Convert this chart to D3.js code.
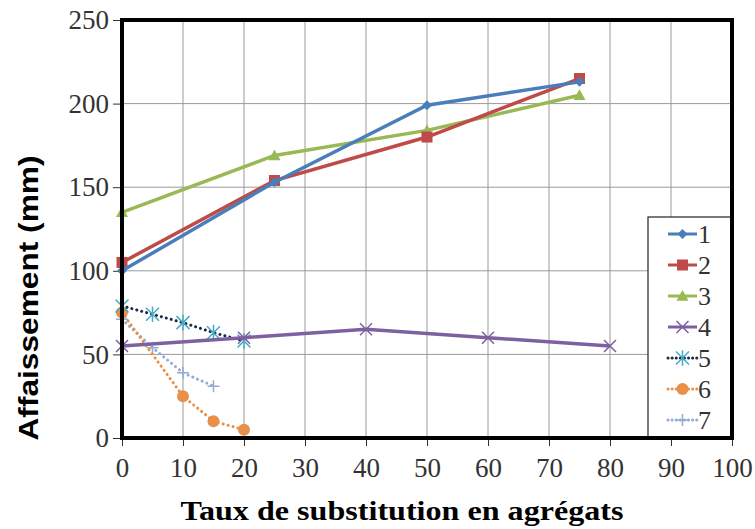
<!DOCTYPE html>
<html>
<head>
<meta charset="utf-8">
<script src="https://cdn.jsdelivr.net/npm/d3@7"></script>
<style>
  body { margin: 0; background: #fff; }
  svg text { font-family: "Liberation Serif", "Times New Roman", serif; }
</style>
</head>
<body>
<div id="chart"></div>
<script>
// values
let x_ticks = [0, 10, 20, 30, 40, 50, 60, 70, 80, 90, 100]
let y_ticks = [0, 50, 100, 150, 200, 250]

let s1 = [[0, 100], [25, 153], [50, 199], [75, 213]]
let s2 = [[0, 105], [25, 154], [50, 180], [75, 215]]
let s3 = [[0, 135], [25, 169], [50, 184], [75, 205]]
let s4 = [[0, 55], [20, 60], [40, 65], [60, 60], [80, 55]]
let s5 = [[0, 79], [5, 74], [10, 69], [15, 63], [20, 58]]
let s6 = [[0, 75], [10, 25], [15, 10], [20, 5]]
let s7 = [[0, 71], [5, 54], [10, 39], [15, 31]]

let series_names = ["1", "2", "3", "4", "5", "6", "7"]

let w = 755
let h = 529
let margin = {left: 122, right: 23, top: 20, bottom: 91}

let series = [
    {data: s1, line: "#4a7ebb", mark: "#4a7ebb", dash: false, shape: "diamond"},
    {data: s2, line: "#be4b48", mark: "#be4b48", dash: false, shape: "square"},
    {data: s3, line: "#98b954", mark: "#98b954", dash: false, shape: "triangle"},
    {data: s4, line: "#7d60a0", mark: "#7d60a0", dash: false, shape: "cross"},
    {data: s5, line: "#1b2a45", mark: "#46aac5", dash: true, shape: "asterisk"},
    {data: s6, line: "#e8904a", mark: "#e8904a", dash: true, shape: "circle"},
    {data: s7, line: "#93acd4", mark: "#93acd4", dash: true, shape: "plus"}
]

let x = d3.scaleLinear().domain([0, 100]).range([margin.left, w - margin.right])
let y = d3.scaleLinear().domain([0, 250]).range([h - margin.bottom, margin.top])

let serif = "Liberation Serif"

let svg = d3.select("#chart").append("svg")
    .attr("width", w)
    .attr("height", h)
    .attr("font-family", serif)

// grid
svg.append("g")
    .selectAll("line")
    .data(x_ticks.slice(1, -1))
    .enter()
    .append("line")
    .attr("x1", d => x(d)).attr("x2", d => x(d))
    .attr("y1", y(0)).attr("y2", y(250))
    .attr("stroke", "#9a9a9a").attr("stroke-width", 1)

svg.append("g")
    .selectAll("line")
    .data(y_ticks.slice(1, -1))
    .enter()
    .append("line")
    .attr("x1", x(0)).attr("x2", x(100))
    .attr("y1", d => y(d)).attr("y2", d => y(d))
    .attr("stroke", "#9a9a9a").attr("stroke-width", 1)

// axes
let xAxis = svg.append("g")
    .attr("transform", `translate(0, ${y(0)})`)
    .call(d3.axisBottom(x).tickValues(x_ticks).tickSize(8).tickPadding(12))
    .attr("font-family", serif)
    .attr("font-size", 27)
xAxis.select(".domain").remove()
xAxis.selectAll("line").attr("stroke", "#333")
xAxis.selectAll("text").attr("fill", "#333")

let yAxis = svg.append("g")
    .attr("transform", `translate(${x(0)}, 0)`)
    .call(d3.axisLeft(y).tickValues(y_ticks).tickSize(9).tickPadding(4))
    .attr("font-family", serif)
    .attr("font-size", 27)
yAxis.select(".domain").remove()
yAxis.selectAll("line").attr("stroke", "#333")
yAxis.selectAll("text").attr("fill", "#333")

// marker shapes
function marker(g, shape, color, s) {
    if (shape == "diamond") {
        g.append("path").attr("d", `M0,${-s}L${s},0L0,${s}L${-s},0Z`).attr("fill", color)
    } else if (shape == "square") {
        g.append("rect").attr("x", -s).attr("y", -s).attr("width", 2 * s).attr("height", 2 * s).attr("fill", color)
    } else if (shape == "triangle") {
        g.append("path").attr("d", `M0,${-s}L${s},${s * 0.8}L${-s},${s * 0.8}Z`).attr("fill", color)
    } else if (shape == "circle") {
        g.append("circle").attr("r", s).attr("fill", color)
    } else if (shape == "cross") {
        g.append("path").attr("d", `M${-s},${-s}L${s},${s}M${-s},${s}L${s},${-s}`)
            .attr("stroke", color).attr("stroke-width", 1.5)
    } else if (shape == "plus") {
        g.append("path").attr("d", `M${-s},0L${s},0M0,${-s}L0,${s}`)
            .attr("stroke", color).attr("stroke-width", 1.5)
    } else if (shape == "asterisk") {
        g.append("path").attr("d", `M${-s},${-s}L${s},${s}M${-s},${s}L${s},${-s}M0,${-s * 1.2}L0,${s * 1.2}`)
            .attr("stroke", color).attr("stroke-width", 1.5)
    }
}

let marker_size = {diamond: 5, square: 5.5, triangle: 6, cross: 6, asterisk: 6.5, circle: 6, plus: 6}

let line = d3.line().x(d => x(d[0])).y(d => y(d[1]))

// bottom series first so the solid ones sit on top
let draw_order = [6, 5, 4, 3, 2, 1, 0]
draw_order.forEach(i => {
    let s = series[i]
    let g = svg.append("g")
    g.append("path")
        .datum(s.data)
        .attr("d", line)
        .attr("fill", "none")
        .attr("stroke", s.line)
        .attr("stroke-width", s.dash ? 3 : 3.5)
        .attr("stroke-linecap", s.dash ? "round" : "butt")
        .attr("stroke-dasharray", s.dash ? "0.1,5" : null)
    g.selectAll(".pt")
        .data(s.data)
        .enter()
        .append("g")
        .attr("class", "pt")
        .attr("transform", d => `translate(${x(d[0])}, ${y(d[1])})`)
        .each(function() { marker(d3.select(this), s.shape, s.mark, marker_size[s.shape]) })
})

// legend
let lg_x = 648
let lg_y = 217
let lg = svg.append("g")
lg.append("rect")
    .attr("x", lg_x).attr("y", lg_y)
    .attr("width", x(100) - lg_x).attr("height", y(0) - lg_y)
    .attr("fill", "#fff").attr("stroke", "#222").attr("stroke-width", 1.2)

series.forEach((s, i) => {
    let cy = lg_y + 17 + i * 31
    let g = lg.append("g")
    g.append("line")
        .attr("x1", 668).attr("x2", 697)
        .attr("y1", cy).attr("y2", cy)
        .attr("stroke", i == 4 ? s.line : s.mark)
        .attr("stroke-width", 3)
        .attr("stroke-linecap", s.dash ? "round" : "butt")
        .attr("stroke-dasharray", s.dash ? "0.1,4" : null)
    let m = g.append("g").attr("transform", `translate(682.5, ${cy})`)
    marker(m, s.shape, s.mark, marker_size[s.shape])
    g.append("text")
        .attr("x", 698).attr("y", cy + 9)
        .attr("font-family", serif).attr("font-size", 26).attr("fill", "#333")
        .text(series_names[i])
})

// frame
svg.append("rect")
    .attr("x", x(0)).attr("y", y(250))
    .attr("width", x(100) - x(0)).attr("height", y(0) - y(250))
    .attr("fill", "none").attr("stroke", "#000").attr("stroke-width", 4)

// titles
svg.append("text")
    .attr("transform", `translate(38, 298) rotate(-90)`)
    .attr("text-anchor", "middle")
    .style("font-family", "Liberation Sans, Arial, sans-serif")
    .style("font-weight", "bold")
    .style("font-size", "27px")
    .attr("textLength", 285)
    .attr("lengthAdjust", "spacingAndGlyphs")
    .text("Affaissement (mm)")

svg.append("text")
    .attr("x", 402).attr("y", 520)
    .attr("text-anchor", "middle")
    .attr("font-family", serif)
    .style("font-weight", "bold")
    .style("font-size", "28px")
    .attr("textLength", 443)
    .attr("lengthAdjust", "spacingAndGlyphs")
    .text("Taux de substitution en agrégats")
</script>
</body>
</html>
